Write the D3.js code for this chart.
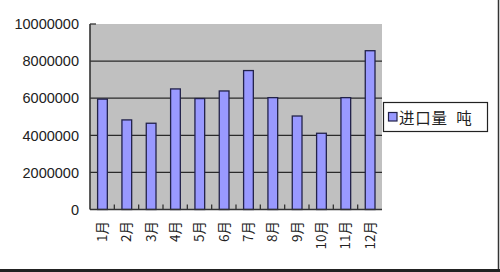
<!DOCTYPE html>
<html><head><meta charset="utf-8">
<script src="https://cdn.jsdelivr.net/npm/d3@7"></script>
<style>body{margin:0;background:#fff}svg{display:block}</style>
</head><body>
<script>
const categories = ["1月","2月","3月","4月","5月","6月","7月","8月","9月","10月","11月","12月"];
const values = [5950000,4830000,4650000,6500000,5980000,6390000,7490000,6030000,5040000,4110000,6030000,8560000];
const yTicks = [0,2000000,4000000,6000000,8000000,10000000];
const seriesName = "进口量 吨";

const W=500,H=272;
const svg=d3.select("body").append("svg").attr("width",W).attr("height",H);
svg.append("rect").attr("width",W).attr("height",H).attr("fill","#fff");

const L=90,R=382,T=24,B=209.5;
const x=d3.scaleBand().domain(categories).range([L,R]).padding(0);
const y=d3.scaleLinear().domain([0,10000000]).range([B,T]);

svg.append("rect").attr("x",L).attr("y",T).attr("width",R-L).attr("height",B-T).attr("fill","#c0c0c0");

// gridlines
svg.selectAll(".grid").data(yTicks.filter(d=>d>0&&d<10000000)).enter().append("line")
 .attr("x1",L).attr("x2",R).attr("y1",d=>y(d)).attr("y2",d=>y(d))
 .attr("stroke","#2a2a2a").attr("stroke-width",1.3);

// bars
const bw=x.bandwidth()*0.4;
svg.selectAll(".bar").data(values).enter().append("rect")
 .attr("x",(d,i)=>x(categories[i])+x.bandwidth()/2-bw/2+0.3)
 .attr("y",d=>y(d)).attr("width",bw).attr("height",d=>B-y(d))
 .attr("fill","#9999ff").attr("stroke","#22224a").attr("stroke-width",1.3);

// y axis
svg.append("line").attr("x1",L).attr("x2",L).attr("y1",T).attr("y2",B).attr("stroke","#333").attr("stroke-width",1.6);
svg.append("line").attr("x1",L).attr("x2",L+6).attr("y1",T).attr("y2",T).attr("stroke","#333").attr("stroke-width",1.3);
svg.selectAll(".yl").data(yTicks).enter().append("text")
 .attr("x",79).attr("y",d=>y(d)).attr("dy","0.36em").attr("text-anchor","end")
 .attr("font-family","Liberation Sans, Arial, sans-serif").attr("font-size",14.5).attr("fill","#222")
 .text(d=>d3.format("d")(d));

// x axis
svg.append("line").attr("x1",L).attr("x2",R).attr("y1",B).attr("y2",B).attr("stroke","#333").attr("stroke-width",1.6);
svg.selectAll(".xt").data(categories.slice(1)).enter().append("line")
 .attr("x1",d=>x(d)).attr("x2",d=>x(d)).attr("y1",B).attr("y2",B-5).attr("stroke","#333").attr("stroke-width",1.3);
svg.selectAll(".xl").data(categories).enter().append("text")
 .attr("transform",d=>`translate(${x(d)+x.bandwidth()/2},221) rotate(-90)`)
 .attr("dy","0.35em").attr("text-anchor","end")
 .attr("font-family","Noto Sans CJK SC, sans-serif").attr("font-size",13.5).attr("fill","#222")
 .text(d=>d);

// legend
const lg=svg.append("g");
lg.append("rect").attr("x",383.5).attr("y",102.5).attr("width",104).attr("height",29).attr("fill","#fff").attr("stroke","#222").attr("stroke-width",1.2);
lg.append("rect").attr("x",388.5).attr("y",112.5).attr("width",8.5).attr("height",8.5).attr("fill","#9999ff").attr("stroke","#22224a").attr("stroke-width",1.2);
lg.append("text").attr("x",399).attr("y",123.5).attr("font-family","Noto Sans CJK SC, sans-serif").attr("font-size",15.5).attr("fill","#222")
 .attr("letter-spacing",0.8).attr("word-spacing",4).text(seriesName);

// frame shadow
svg.append("line").attr("x1",498.5).attr("x2",498.5).attr("y1",0).attr("y2",H).attr("stroke","#333").attr("stroke-width",1.5);
svg.append("line").attr("x1",0).attr("x2",W).attr("y1",270.5).attr("y2",270.5).attr("stroke","#222").attr("stroke-width",3);
</script>
</body></html>
